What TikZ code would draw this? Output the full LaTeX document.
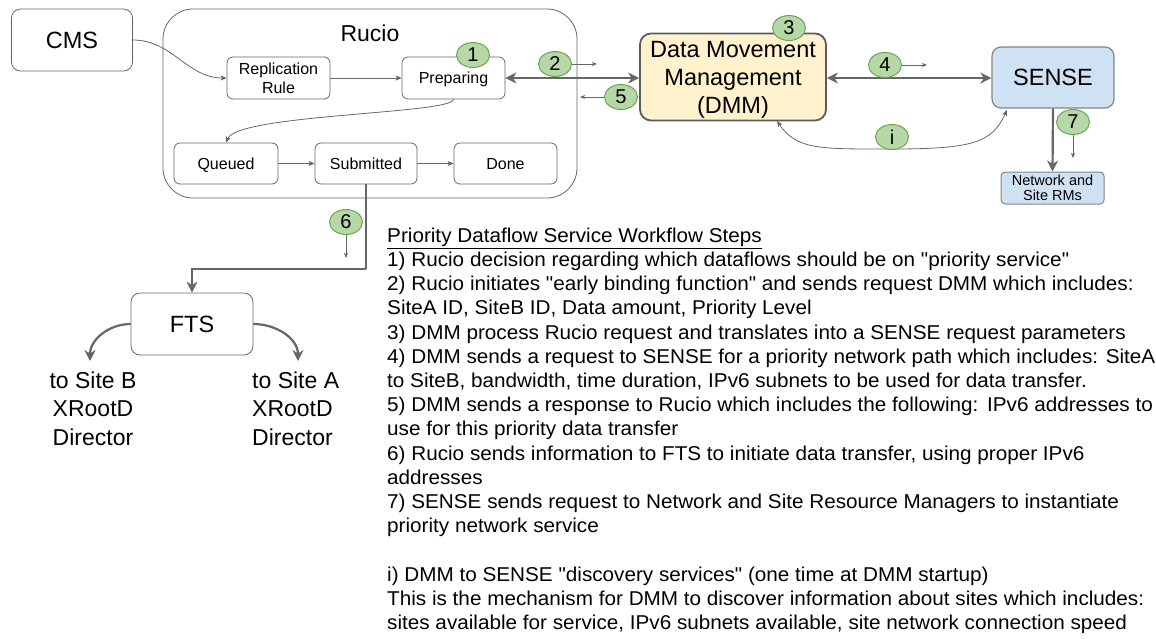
\documentclass[tikz,border=0pt]{standalone}
\usepackage{fontspec}
\setmainfont{Liberation Sans}
\newfontfamily\stepfont[FakeStretch=1.035]{Liberation Sans}
\usetikzlibrary{arrows.meta,shapes.geometric}
\definecolor{boxgray}{HTML}{666666}
\definecolor{arrowgray}{HTML}{666666}
\definecolor{dmmfill}{HTML}{FFF2CC}
\definecolor{sensefill}{HTML}{CFE2F3}
\definecolor{greenfill}{HTML}{B6D7A8}
\definecolor{greenline}{HTML}{6AA84F}
\begin{document}
\begin{tikzpicture}[x=1pt,y=-1pt,
  box/.style={draw=boxgray, line width=0.8pt, rounded corners=7pt, fill=white, inner sep=0pt, align=center},
  bigbox/.style={box, rounded corners=9pt, font=\fontsize{23.5}{28}\selectfont},
  smallbox/.style={box, rounded corners=6pt, font=\fontsize{16}{19}\selectfont},
  oneline/.style={text height=11.5pt, text depth=0pt},
  badge/.style={ellipse, draw=greenline, fill=greenfill, line width=1pt, minimum width=33pt, minimum height=25pt, inner sep=0pt, font=\fontsize{20}{20}\selectfont},
  thinarrow/.style={draw=arrowgray, line width=0.8pt, -{Stealth[length=6pt,width=5pt,inset=1.5pt]}},
  tinyarrow/.style={draw=arrowgray, line width=0.7pt, -{Stealth[length=5pt,width=4pt,inset=1.2pt]}},
  thickarrow/.style={draw=arrowgray, line width=2.2pt, -{Stealth[length=11pt,width=11pt,inset=3.5pt]}},
  thickdouble/.style={draw=arrowgray, line width=2.2pt, {Stealth[length=11pt,width=11pt,inset=3.5pt]}-{Stealth[length=11pt,width=11pt,inset=3.5pt]}},
  stepline/.style={anchor=base west, inner sep=0pt, font=\stepfont\fontsize{20}{24}\selectfont},
  sitelabel/.style={inner sep=0pt, font=\fontsize{23}{28.5}\selectfont}
]
\useasboundingbox (0,0) rectangle (1156,638);

% Rucio container
\node[box, rounded corners=30pt, minimum width=414pt, minimum height=189pt] (rucio) at (370,103.5) {};
\node[inner sep=0pt, font=\fontsize{23}{28}\selectfont] (ruciolabel) at (370,33) {Rucio};

% boxes
\node[bigbox, minimum width=121pt, minimum height=62pt] (cms) at (72,40) {CMS};
\node[smallbox, minimum width=103pt, minimum height=42pt] (rr) at (278.5,78) {Replication\\Rule};
\node[smallbox, oneline, minimum width=103pt, minimum height=42pt] (prep) at (453.5,78) {Preparing};
\node[smallbox, oneline, minimum width=104pt, minimum height=41pt] (queued) at (226,163.5) {Queued};
\node[smallbox, oneline, minimum width=102pt, minimum height=41pt] (sub) at (366,163.5) {Submitted};
\node[smallbox, oneline, minimum width=103pt, minimum height=41pt] (done) at (505.5,163.5) {Done};
\node[bigbox, draw=boxgray!90!black, line width=1.8pt, fill=dmmfill, rounded corners=11pt, minimum width=186pt, minimum height=87pt] (dmm) at (733,77) {};
\node[inner sep=0pt, align=center, font=\fontsize{23.5}{28}\selectfont] (dmmtext) at (733,80) {Data Movement\\Management\\(DMM)};
\node[bigbox, draw=boxgray!80, line width=1.2pt, fill=sensefill, minimum width=122pt, minimum height=61pt] (sense) at (1053,77.5) {SENSE};
\node[box, draw=boxgray!80, line width=1pt, fill=sensefill, rounded corners=4pt, minimum width=103pt, minimum height=32pt, font=\fontsize{14.5}{15.5}\selectfont] (net) at (1052.5,188) {Network and\\Site RMs};
\node[bigbox, minimum width=122pt, minimum height=62pt] (fts) at (192,324) {FTS};

% connectors inside Rucio
\draw[thinarrow] (cms.east) to[out=0, in=180] (rr.west);
\draw[thinarrow] (rr.east) -- (prep.west);
\draw[thinarrow] (prep.south) .. controls (452,114) and (238,114) .. (queued.north);
\draw[thinarrow] (queued.east) -- (sub.west);
\draw[thinarrow] (sub.east) -- (done.west);

% thick connectors
\draw[thickdouble] (prep.east) -- (prep.east -| dmm.west);
\draw[thickdouble] (dmm.east |- 0,78) -- (sense.west |- 0,78);
\draw[thickarrow] (sense.south) -- (net.north);
\coordinate (elbow) at (366,269);
\draw[draw=arrowgray, line width=2.2pt] (sub.south) -- (elbow);
\draw[thickarrow] (elbow) -| (fts.north);
\coordinate (siteB) at (90,361);
\coordinate (siteA) at (298,361);
\draw[thickarrow] (fts.west) to[out=180, in=90] (siteB);
\draw[thickarrow] (fts.east) to[out=0, in=90] (siteA);

% discovery curve
\coordinate (dmmi) at (777,121);
\coordinate (sensei) at (1007,110);
\draw[draw=arrowgray, line width=0.8pt, {Stealth[length=6pt,width=5pt,inset=1.5pt]}-{Stealth[length=6pt,width=5pt,inset=1.5pt]}]
  (dmmi) .. controls (797,150) and (820,149) .. (892,149) .. controls (975,149) and (992,142) .. (sensei);

% badges
\node[badge] (b1) at (473,55) {1};
\node[badge] (b2) at (555,64) {2};
\node[badge] (b3) at (789,28) {3};
\node[badge] (b4) at (885,65) {4};
\node[badge] (b5) at (621,97) {5};
\node[badge] (b6) at (346,222) {6};
\node[badge] (b7) at (1073,122) {7};
\node[badge] (bi) at (892,137) {i};

% small direction arrows
\coordinate (e2) at (597,64);
\coordinate (e5) at (580,97);
\coordinate (e4) at (927,65);
\coordinate (e7) at (1073,158);
\coordinate (e6) at (346,258);
\draw[tinyarrow] (b2.east) -- (e2);
\draw[tinyarrow] (b5.west) -- (e5);
\draw[tinyarrow] (b4.east) -- (e4);
\draw[tinyarrow] (b7.south) -- (e7);
\draw[tinyarrow] (b6.south) -- (e6);

% site labels
\node[sitelabel, align=center] (sb) at (93,408.5) {to Site B\\XRootD\\Director};
\node[sitelabel, align=left, anchor=west] (sa) at (252,408.5) {to Site A\\XRootD\\Director};

% workflow text
\node[stepline] (l0) at (387,242.2) {\underline{Priority Dataflow Service Workflow Steps}};
\node[stepline] (l1) at (387,266.4) {1) Rucio decision regarding which dataflows should be on "priority service"};
\node[stepline] (l2) at (387,290.6) {2) Rucio initiates "early binding function" and sends request DMM which includes:};
\node[stepline] (l3) at (387,314.8) {SiteA ID, SiteB ID, Data amount, Priority Level};
\node[stepline] (l4) at (387,339.0) {3) DMM process Rucio request and translates into a SENSE request parameters};
\node[stepline] (l5) at (387,363.2) {4) DMM sends a request to SENSE for a priority network path which includes: SiteA};
\node[stepline] (l6) at (387,387.4) {to SiteB, bandwidth, time duration, IPv6 subnets to be used for data transfer.};
\node[stepline] (l7) at (387,411.6) {5) DMM sends a response to Rucio which includes the following: \hspace{1pt}IPv6 addresses to};
\node[stepline] (l8) at (387,435.8) {use for this priority data transfer};
\node[stepline] (l9) at (387,460.0) {6) Rucio sends information to FTS to initiate data transfer, using proper IPv6};
\node[stepline] (l10) at (387,484.2) {addresses};
\node[stepline] (l11) at (387,508.4) {7) SENSE sends request to Network and Site Resource Managers to instantiate};
\node[stepline] (l12) at (387,532.6) {priority network service};
\node[stepline] (l14) at (387,581.0) {i) DMM to SENSE "discovery services" (one time at DMM startup)};
\node[stepline] (l15) at (387,605.2) {This is the mechanism for DMM to discover information about sites which includes:};
\node[stepline] (l16) at (387,629.4) {sites available for service, IPv6 subnets available, site network connection speed};
\end{tikzpicture}
\end{document}
